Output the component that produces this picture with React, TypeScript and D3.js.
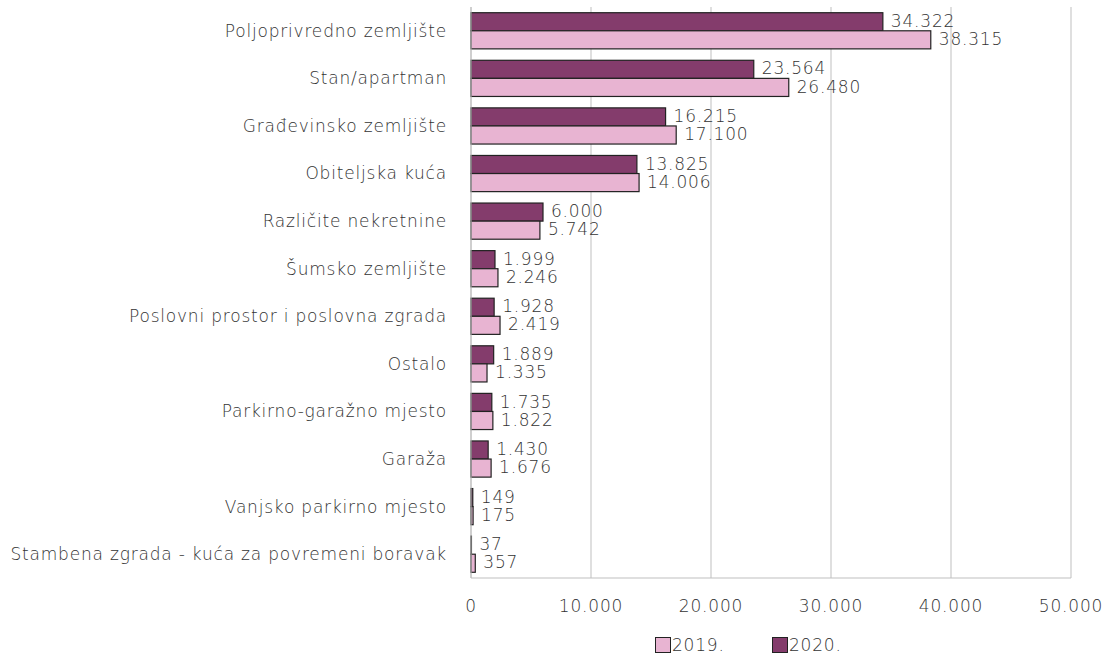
import React from "react";
import * as d3 from "d3";

const categories = [
  "Poljoprivredno zemljište",
  "Stan/apartman",
  "Građevinsko zemljište",
  "Obiteljska kuća",
  "Različite nekretnine",
  "Šumsko zemljište",
  "Poslovni prostor i poslovna zgrada",
  "Ostalo",
  "Parkirno-garažno mjesto",
  "Garaža",
  "Vanjsko parkirno mjesto",
  "Stambena zgrada - kuća za povremeni boravak",
];
const values2019 = [38315, 26480, 17100, 14006, 5742, 2246, 2419, 1335, 1822, 1676, 175, 357];
const values2020 = [34322, 23564, 16215, 13825, 6000, 1999, 1928, 1889, 1735, 1430, 149, 37];
const xTicks = [0, 10000, 20000, 30000, 40000, 50000];
const seriesNames = ["2019.", "2020."];

const W = 1112;
const H = 657;
const left = 471;
const right = 1071;
const top = 7;
const bottom = 578;
const C2019 = "#e8b4d2";
const C2020 = "#843c6c";
const STROKE = "#222222";
const TEXT = "#333333";
const FONT = "'DejaVu Sans', sans-serif";
const FW = 200;
const FS = 17;
const LS = 0.8;

const fmt = (v: number) => d3.format(",")(v).replace(/,/g, ".");

export default function App() {
  const x = d3.scaleLinear().domain([0, 50000]).range([left, right]);
  const y = d3.scaleBand<string>().domain(categories).range([top, bottom]).paddingInner(0.24).paddingOuter(0.12);
  const sub = d3.scaleBand<string>().domain(["2020", "2019"]).range([0, y.bandwidth()]);
  const tp = { fontSize: FS, fontWeight: FW, fill: TEXT, letterSpacing: LS };
  return (
    <svg width={W} height={H} style={{ position: "absolute", left: 0, top: 0 }} fontFamily={FONT}>
      <rect width={W} height={H} fill="#fff" />
      {xTicks.map((t) => (
        <line key={t} x1={x(t)} x2={x(t)} y1={top} y2={bottom} stroke="#bfbfbf" strokeWidth={1} />
      ))}
      <line x1={left} x2={right} y1={bottom} y2={bottom} stroke="#bfbfbf" />
      {categories.map((c, i) => {
        const y0 = y(c)!;
        const bh = sub.bandwidth();
        const y20 = y0 + sub("2020")!;
        const y19 = y0 + sub("2019")!;
        return (
          <g key={c}>
            <rect x={x(0)} y={y20} width={x(values2020[i]) - x(0)} height={bh} fill={C2020} stroke={STROKE} strokeWidth={1.2} />
            <rect x={x(0)} y={y19} width={x(values2019[i]) - x(0)} height={bh} fill={C2019} stroke={STROKE} strokeWidth={1.2} />
            <text x={x(values2020[i]) + 8} y={y20 + bh / 2} dy="0.3em" {...tp}>
              {fmt(values2020[i])}
            </text>
            <text x={x(values2019[i]) + 8} y={y19 + bh / 2} dy="0.3em" {...tp}>
              {fmt(values2019[i])}
            </text>
            <text x={left - 24} y={y0 + y.bandwidth() / 2} dy="0.35em" textAnchor="end" {...tp}>
              {c}
            </text>
          </g>
        );
      })}
      <line x1={left} x2={left} y1={top} y2={bottom} stroke="#bfbfbf" />
      {xTicks.map((t) => (
        <text key={t} x={x(t)} y={606} dy="0.35em" textAnchor="middle" {...tp}>
          {fmt(t)}
        </text>
      ))}
      <g>
        <rect x={655.5} y={637.5} width={15} height={15} fill={C2019} stroke={STROKE} />
        <text x={672} y={645} dy="0.35em" {...tp}>{seriesNames[0]}</text>
        <rect x={772.5} y={637.5} width={15} height={15} fill={C2020} stroke={STROKE} />
        <text x={789} y={645} dy="0.35em" {...tp}>{seriesNames[1]}</text>
      </g>
    </svg>
  );
}
